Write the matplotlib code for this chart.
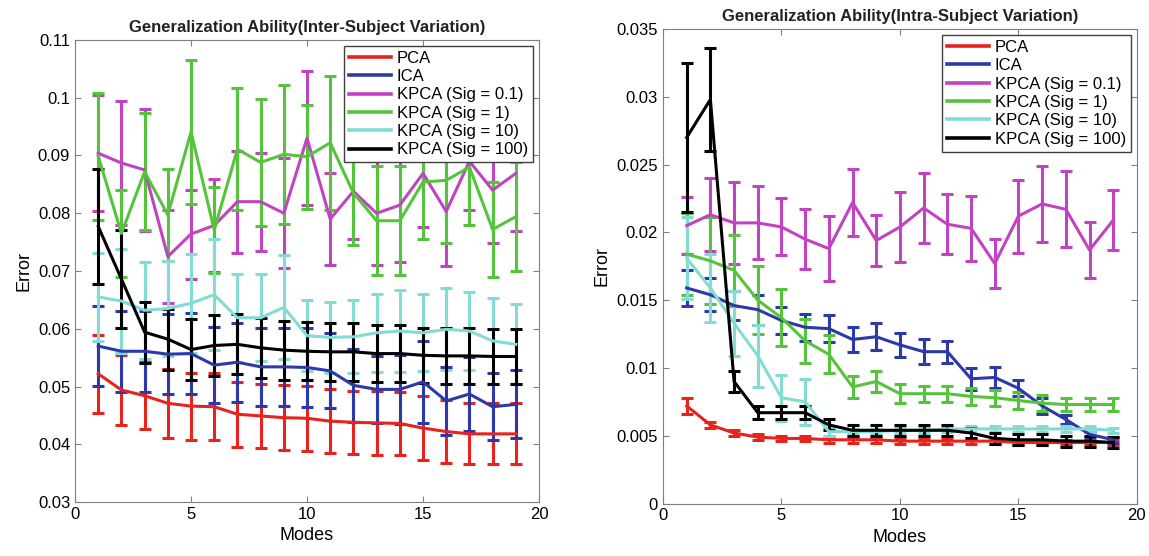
import matplotlib
matplotlib.use("Agg")
import matplotlib.pyplot as plt
from matplotlib.lines import Line2D
import numpy as np

modes = list(range(1, 20))
labels = ["PCA", "ICA", "KPCA (Sig = 0.1)", "KPCA (Sig = 1)", "KPCA (Sig = 10)", "KPCA (Sig = 100)"]

# inter-subject variation (left panel)
pca_inter = [0.0522, 0.0494, 0.0484, 0.0471, 0.0466, 0.0465, 0.0452, 0.0449, 0.0446, 0.0445,
             0.0440, 0.0438, 0.0437, 0.0436, 0.0428, 0.0422, 0.0418, 0.0418, 0.0418]
pca_inter_err = [0.0068, 0.0060, 0.0058, 0.0060, 0.0058, 0.0058, 0.0056, 0.0056, 0.0056, 0.0056,
                 0.0055, 0.0055, 0.0055, 0.0055, 0.0055, 0.0054, 0.0053, 0.0053, 0.0053]
ica_inter = [0.0570, 0.0561, 0.0561, 0.0556, 0.0557, 0.0537, 0.0542, 0.0534, 0.0534, 0.0533,
             0.0527, 0.0502, 0.0495, 0.0495, 0.0508, 0.0475, 0.0487, 0.0465, 0.0469]
ica_inter_err = [0.0069, 0.0070, 0.0070, 0.0069, 0.0070, 0.0066, 0.0068, 0.0068, 0.0068, 0.0068,
                 0.0065, 0.0063, 0.0058, 0.0060, 0.0071, 0.0059, 0.0064, 0.0058, 0.0059]
k01_inter = [0.0904, 0.0887, 0.0875, 0.0725, 0.0764, 0.0779, 0.0820, 0.0820, 0.0800, 0.0930,
             0.0790, 0.0838, 0.0800, 0.0814, 0.0869, 0.0803, 0.0890, 0.0840, 0.0869]
k01_inter_err = [0.0100, 0.0108, 0.0105, 0.0080, 0.0077, 0.0080, 0.0088, 0.0085, 0.0095, 0.0116,
                 0.0080, 0.0083, 0.0090, 0.0098, 0.0092, 0.0095, 0.0085, 0.0091, 0.0099]
k1_inter = [0.0899, 0.0765, 0.0872, 0.0797, 0.0941, 0.0771, 0.0911, 0.0888, 0.0902, 0.0898,
            0.0922, 0.0835, 0.0787, 0.0787, 0.0854, 0.0857, 0.0880, 0.0772, 0.0794]
k1_inter_err = [0.0110, 0.0076, 0.0101, 0.0080, 0.0125, 0.0075, 0.0105, 0.0110, 0.0120, 0.0090,
                0.0116, 0.0090, 0.0094, 0.0094, 0.0099, 0.0109, 0.0100, 0.0082, 0.0094]
k10_inter = [0.0655, 0.0648, 0.0632, 0.0635, 0.0644, 0.0659, 0.0619, 0.0619, 0.0637, 0.0588,
             0.0585, 0.0586, 0.0593, 0.0596, 0.0593, 0.0599, 0.0596, 0.0579, 0.0573]
k10_inter_err = [0.0076, 0.0090, 0.0084, 0.0082, 0.0086, 0.0096, 0.0076, 0.0075, 0.0090, 0.0062,
                 0.0062, 0.0063, 0.0068, 0.0071, 0.0067, 0.0071, 0.0068, 0.0075, 0.0069]
k100_inter = [0.0777, 0.0686, 0.0594, 0.0582, 0.0564, 0.0571, 0.0573, 0.0567, 0.0563, 0.0561,
              0.0560, 0.0560, 0.0557, 0.0557, 0.0554, 0.0553, 0.0553, 0.0552, 0.0552]
k100_inter_err = [0.0099, 0.0085, 0.0053, 0.0053, 0.0053, 0.0052, 0.0052, 0.0052, 0.0051, 0.0050,
                  0.0050, 0.0050, 0.0049, 0.0049, 0.0048, 0.0048, 0.0048, 0.0047, 0.0047]

# intra-subject variation (right panel)
pca_intra = [0.0072, 0.0058, 0.0052, 0.0049, 0.0048, 0.0048, 0.0047, 0.0047, 0.0047, 0.0046,
             0.0046, 0.0046, 0.0046, 0.0046, 0.0045, 0.0045, 0.0045, 0.0045, 0.0045]
pca_intra_err = [0.0006, 0.0002, 0.0002, 0.0002, 0.0002, 0.0002, 0.0002, 0.0002, 0.0002, 0.0002,
                 0.0002, 0.0002, 0.0002, 0.0002, 0.0002, 0.0002, 0.0002, 0.0002, 0.0002]
ica_intra = [0.0159, 0.0154, 0.0146, 0.0143, 0.0135, 0.0130, 0.0129, 0.0121, 0.0123, 0.0117,
             0.0112, 0.0112, 0.0092, 0.0093, 0.0085, 0.0072, 0.0062, 0.0051, 0.0047]
ica_intra_err = [0.0013, 0.0012, 0.0011, 0.0011, 0.0010, 0.0010, 0.0010, 0.0009, 0.0010, 0.0009,
                 0.0009, 0.0008, 0.0008, 0.0008, 0.0006, 0.0006, 0.0003, 0.0002, 0.0002]
k01_intra = [0.0205, 0.0213, 0.0207, 0.0207, 0.0204, 0.0195, 0.0188, 0.0222, 0.0194, 0.0204,
             0.0218, 0.0206, 0.0203, 0.0177, 0.0212, 0.0221, 0.0217, 0.0187, 0.0209]
k01_intra_err = [0.0021, 0.0027, 0.0030, 0.0027, 0.0021, 0.0022, 0.0024, 0.0025, 0.0019, 0.0026,
                 0.0026, 0.0022, 0.0024, 0.0018, 0.0027, 0.0028, 0.0028, 0.0021, 0.0022]
k1_intra = [0.0184, 0.0179, 0.0172, 0.0150, 0.0137, 0.0120, 0.0110, 0.0086, 0.0090, 0.0081,
            0.0081, 0.0081, 0.0079, 0.0078, 0.0076, 0.0074, 0.0073, 0.0073, 0.0073]
k1_intra_err = [0.0030, 0.0032, 0.0026, 0.0025, 0.0021, 0.0016, 0.0014, 0.0008, 0.0008, 0.0007,
                0.0006, 0.0006, 0.0006, 0.0006, 0.0006, 0.0006, 0.0005, 0.0005, 0.0005]
k10_intra = [0.0181, 0.0159, 0.0133, 0.0109, 0.0078, 0.0075, 0.0053, 0.0053, 0.0053, 0.0054,
             0.0054, 0.0055, 0.0055, 0.0055, 0.0055, 0.0055, 0.0055, 0.0055, 0.0054]
k10_intra_err = [0.0030, 0.0025, 0.0024, 0.0023, 0.0017, 0.0017, 0.0003, 0.0002, 0.0002, 0.0002,
                 0.0002, 0.0002, 0.0002, 0.0002, 0.0002, 0.0002, 0.0002, 0.0002, 0.0002]
k100_intra = [0.0270, 0.0298, 0.0090, 0.0067, 0.0067, 0.0067, 0.0058, 0.0054, 0.0054, 0.0054,
              0.0054, 0.0054, 0.0052, 0.0048, 0.0047, 0.0047, 0.0046, 0.0046, 0.0045]
k100_intra_err = [0.0055, 0.0038, 0.0008, 0.0005, 0.0005, 0.0005, 0.0004, 0.0004, 0.0004, 0.0004,
                  0.0004, 0.0004, 0.0004, 0.0004, 0.0004, 0.0004, 0.0004, 0.0004, 0.0004]

colors = ["#e8231e", "#2b3aa8", "#c143c1", "#55c43c", "#82dcd5", "#000000"]

plt.rcParams['font.family'] = ['Liberation Sans', 'DejaVu Sans']


def draw_panel(ax, series, errors, title, ylim, yticks, yfmt):
    for vals, errs, c in zip(series, errors, colors):
        ax.errorbar(modes, vals, yerr=errs, color=c, lw=2.2, elinewidth=2.2,
                    capsize=4.5, capthick=2.2)
    ax.set_xlim(0, 20)
    ax.set_ylim(*ylim)
    ax.set_xticks([0, 5, 10, 15, 20])
    ax.set_yticks(yticks)
    ax.set_yticklabels([yfmt(v) for v in yticks])
    ax.tick_params(direction='in', top=True, right=True, labelsize=12,
                   color='#808080', length=4)
    for s in ax.spines.values():
        s.set_color('#808080')
    ax.set_xlabel("Modes", fontsize=13)
    ax.set_ylabel("Error", fontsize=13)
    ax.set_title(title, fontsize=12, fontweight='bold', color='#222222', pad=6)
    handles = [Line2D([], [], color=c, lw=2.6) for c in colors]
    leg = ax.legend(handles, labels, loc='upper right', fontsize=12, handlelength=2.5,
                    fancybox=False, framealpha=1, borderpad=0.3,
                    labelspacing=0.2, handletextpad=0.35,
                    borderaxespad=0.35)
    leg.get_frame().set_edgecolor('#404040')


def fmt(v):
    return f"{v:.3f}".rstrip('0').rstrip('.')


fig = plt.figure(figsize=(11.49, 5.56), dpi=100)
ax1 = fig.add_axes([0.0653, 0.0971, 0.4038, 0.831])
ax2 = fig.add_axes([0.577, 0.0944, 0.4125, 0.8534])

draw_panel(ax1,
           [pca_inter, ica_inter, k01_inter, k1_inter, k10_inter, k100_inter],
           [pca_inter_err, ica_inter_err, k01_inter_err, k1_inter_err, k10_inter_err, k100_inter_err],
           "Generalization Ability(Inter-Subject Variation)",
           (0.03, 0.11), np.arange(0.03, 0.111, 0.01), fmt)
draw_panel(ax2,
           [pca_intra, ica_intra, k01_intra, k1_intra, k10_intra, k100_intra],
           [pca_intra_err, ica_intra_err, k01_intra_err, k1_intra_err, k10_intra_err, k100_intra_err],
           "Generalization Ability(Intra-Subject Variation)",
           (0, 0.035), np.arange(0, 0.0351, 0.005), fmt)

fig.savefig("out.png", dpi=100)
